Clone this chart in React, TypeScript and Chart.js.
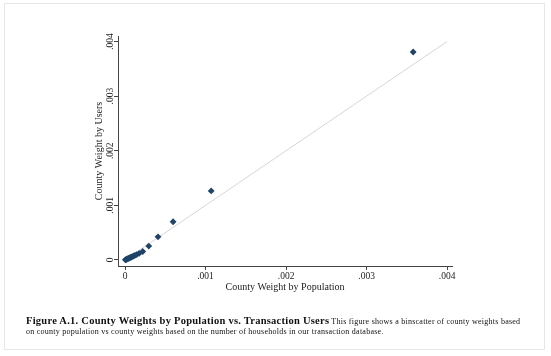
import React, { useEffect, useRef } from "react";
import { Chart, registerables } from "chart.js";

Chart.register(...registerables);

// Binscatter points (county weight by population, county weight by users)
const X_POP = [0.000005, 0.000012, 0.00002, 0.000028, 0.000037, 0.000046, 0.000056, 0.000067, 0.000079, 0.000092, 0.000107, 0.000124, 0.000145, 0.000175, 0.00022, 0.000295, 0.00041, 0.000597, 0.00107, 0.003578];
const Y_USERS = [0.000003, 0.000008, 0.000013, 0.000019, 0.000025, 0.000031, 0.000038, 0.000046, 0.000054, 0.000063, 0.000073, 0.000085, 0.0001, 0.000121, 0.000155, 0.000255, 0.000424, 0.0007, 0.001265, 0.003807];

// 45-degree reference line
const LINE_X = [0, 0.004];
const LINE_Y = [0, 0.004];

const TICK_VALUES = [0, 0.001, 0.002, 0.003, 0.004];
const TICK_LABELS = ["0", ".001", ".002", ".003", ".004"];

const X_TITLE = "County Weight by Population";
const Y_TITLE = "County Weight by Users";
const CAPTION_BOLD = "Figure A.1. County Weights by Population vs. Transaction Users";
const CAPTION_TEXT = "This figure shows a binscatter of county weights based on county population vs county weights based on the number of households in our transaction database.";

const SERIF = "'Liberation Serif', 'Times New Roman', serif";

export default function App() {
  const ref = useRef<HTMLCanvasElement | null>(null);

  useEffect(() => {
    if (!ref.current) return;
    const tickFont = { family: SERIF, size: 9.5 };
    const titleFont = { family: SERIF, size: 10 };
    const chart = new Chart(ref.current, {
      type: "scatter",
      data: {
        datasets: [
          {
            type: "scatter",
            data: X_POP.map((x, i) => ({ x, y: Y_USERS[i] })),
            backgroundColor: "#1f4468",
            borderColor: "#1f4468",
            borderWidth: 0,
            pointStyle: "rectRot",
            pointRadius: 3.4,
          },
          {
            type: "line",
            data: LINE_X.map((x, i) => ({ x, y: LINE_Y[i] })),
            borderColor: "#d6d6d6",
            borderWidth: 1,
            pointRadius: 0,
            fill: false,
          },
        ],
      },
      options: {
        responsive: false,
        animation: false,
        devicePixelRatio: 1,
        layout: { padding: { left: 93, right: 99, top: 36, bottom: 63 } },
        plugins: { legend: { display: false }, tooltip: { enabled: false } },
        scales: {
          x: {
            type: "linear",
            min: -0.000087,
            max: 0.00406,
            afterBuildTicks: (s: any) => {
              s.ticks = TICK_VALUES.map((v) => ({ value: v }));
            },
            afterFit: (s: any) => {
              s.height = 27;
            },
            ticks: {
              font: tickFont,
              color: "#222",
              padding: 1,
              maxRotation: 0,
              autoSkip: false,
              callback: (_v: any, i: number) => TICK_LABELS[i],
            },
            grid: { drawOnChartArea: false, drawTicks: true, tickLength: 4, color: "#444" },
            border: { display: true, color: "#444", width: 1 },
            title: { display: true, text: X_TITLE, font: titleFont, color: "#222", padding: 0 },
          },
          y: {
            type: "linear",
            min: -0.00011,
            max: 0.0041,
            afterBuildTicks: (s: any) => {
              s.ticks = TICK_VALUES.map((v) => ({ value: v }));
            },
            afterFit: (s: any) => {
              s.width = 25;
            },
            ticks: {
              font: tickFont,
              color: "#222",
              padding: -5,
              minRotation: 90,
              maxRotation: 90,
              crossAlign: "center",
              autoSkip: false,
              callback: (_v: any, i: number) => TICK_LABELS[i],
            },
            grid: { drawOnChartArea: false, drawTicks: true, tickLength: 4, color: "#444" },
            border: { display: true, color: "#444", width: 1 },
            title: { display: true, text: Y_TITLE, font: titleFont, color: "#222", padding: 0 },
          },
        },
      },
    } as any);
    return () => chart.destroy();
  }, []);

  return (
    <div style={{ position: "fixed", left: 0, top: 0, width: 551, height: 356, background: "#fff" }}>
      <div
        style={{
          position: "absolute",
          left: 4,
          top: 3,
          width: 539,
          height: 345,
          border: "1px solid #e6e6e6",
        }}
      />
      <canvas ref={ref} width={551} height={356} style={{ position: "absolute", left: 0, top: 0 }} />
      <div
        style={{
          position: "absolute",
          left: 26,
          top: 316,
          width: 498,
          fontFamily: SERIF,
          color: "#111",
          lineHeight: "10px",
          fontSize: 8,
          letterSpacing: 0.25,
        }}
      >
        <span style={{ fontWeight: "bold", fontSize: 10.5, letterSpacing: 0.25 }}>{CAPTION_BOLD}</span> {CAPTION_TEXT}
      </div>
    </div>
  );
}
